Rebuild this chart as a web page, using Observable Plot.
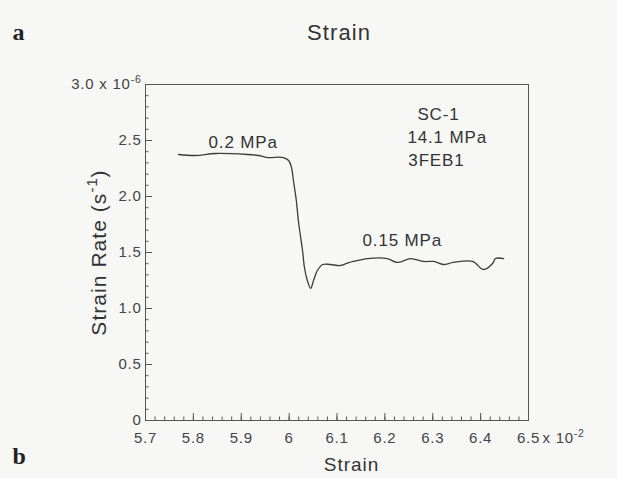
<!DOCTYPE html>
<html>
<head>
<meta charset="utf-8">
<script src="https://cdn.jsdelivr.net/npm/d3@7"></script>
<script src="https://cdn.jsdelivr.net/npm/@observablehq/plot@0.6"></script>
<style>
  html, body { margin: 0; padding: 0; background: #f7f8f5; }
  svg text { letter-spacing: 0.05em; }
</style>
</head>
<body>
<div id="chart"></div>
<script>
// ---- data ----
const strainX = [5.769, 5.804, 5.846, 5.913, 5.936, 5.955, 5.988, 5.999, 6.005, 6.009, 6.015, 6.020, 6.028, 6.032, 6.038, 6.045, 6.051, 6.059, 6.070, 6.086, 6.107, 6.120, 6.134, 6.164, 6.205, 6.226, 6.254, 6.281, 6.302, 6.322, 6.343, 6.383, 6.406, 6.425, 6.431, 6.448];
const strainRate = [2.375, 2.366, 2.384, 2.375, 2.366, 2.348, 2.348, 2.321, 2.259, 2.143, 1.964, 1.759, 1.518, 1.366, 1.250, 1.179, 1.250, 1.339, 1.393, 1.393, 1.384, 1.402, 1.420, 1.446, 1.446, 1.411, 1.446, 1.420, 1.420, 1.393, 1.411, 1.420, 1.348, 1.402, 1.446, 1.446];

const xMajorTicks = [5.7, 5.8, 5.9, 6.0, 6.1, 6.2, 6.3, 6.4, 6.5];
const xTickLabels = ["5.7", "5.8", "5.9", "6", "6.1", "6.2", "6.3", "6.4", "6.5"];
const yMajorTicks = [0, 0.5, 1.0, 1.5, 2.0, 2.5, 3.0];
const yTickLabels = ["0", "0.5", "1.0", "1.5", "2.0", "2.5", "3.0 x 10^{-6}"];
const xMinorTicks = d3.range(0, 41).map(i => +(5.7 + i * 0.02).toFixed(2));
const yMinorTicks = d3.range(0, 31).map(i => +(i * 0.1).toFixed(1));

const annotations = [
  {x: 5.8316, y: 2.4375, text: "0.2 MPa"},
  {x: 6.1533, y: 1.5536, text: "0.15 MPa"},
  {x: 6.268, y: 2.6875, text: "SC-1"},
  {x: 6.247, y: 2.482, text: "14.1 MPa"},
  {x: 6.249, y: 2.268, text: "3FEB1"}
];

const curve = strainX.map((x, i) => ({x, y: strainRate[i]}));
const ink = "#3c3c3c";
const axisInk = "#555";

const chart = Plot.plot({
  width: 617,
  height: 478,
  marginLeft: 145,
  marginRight: 89,
  marginTop: 84,
  marginBottom: 58,
  style: {background: "#f7f8f5", fontFamily: "Liberation Sans, Arial, sans-serif", fontSize: "15px", color: "#444"},
  x: {domain: [5.7, 6.5]},
  y: {domain: [0, 3.0]},
  marks: [
    Plot.frame({stroke: axisInk, strokeWidth: 1}),
    // inward minor / major ticks
    Plot.ruleX(xMinorTicks, {x: d => d, y1: 0, y2: 3.5 / 112, stroke: axisInk}),
    Plot.ruleX(xMajorTicks, {x: d => d, y1: 0, y2: 7 / 112, stroke: axisInk}),
    Plot.ruleY(yMinorTicks, {y: d => d, x1: 5.7, x2: 5.7 + 3.5 / 478.75, stroke: axisInk}),
    Plot.ruleY(yMajorTicks, {y: d => d, x1: 5.7, x2: 5.7 + 7 / 478.75, stroke: axisInk}),
    Plot.axisX({ticks: xMajorTicks, tickFormat: d => xTickLabels[xMajorTicks.findIndex(t => Math.abs(t - d) < 1e-9)], tickSize: 0, tickPadding: 12, label: null, fill: "#444", fontSize: 15}),
    Plot.axisY({ticks: yMajorTicks, tickFormat: d => yTickLabels[yMajorTicks.findIndex(t => Math.abs(t - d) < 1e-9)], tickSize: 0, tickPadding: 4, label: null, fill: "#444", fontSize: 15}),
    Plot.text(["x 10^{-2}"], {x: 6.5, y: 0, text: d => d, textAnchor: "start", lineAnchor: "top", dx: 14, dy: 12, fill: "#444", fontSize: 15}),
    // curve
    Plot.line(curve, {x: "x", y: "y", stroke: ink, strokeWidth: 1.3, curve: "catmull-rom"}),
    // annotations
    Plot.text(annotations, {x: "x", y: "y", text: "text", textAnchor: "start", lineAnchor: "bottom", fontSize: 17, fill: "#333"}),
    // titles
    Plot.text(["Strain"], {frameAnchor: "top", textAnchor: "middle", dx: 2, dy: -60, fontSize: 22, fill: "#333"}),
    Plot.text(["Strain"], {frameAnchor: "bottom", textAnchor: "middle", dx: 14.5, dy: 50, fontSize: 19, fill: "#333"}),
    Plot.text(["Strain Rate (s^{-1})"], {frameAnchor: "left", textAnchor: "middle", dx: -46, dy: 0, rotate: -90, fontSize: 21, fill: "#333"}),
    Plot.text(["a"], {frameAnchor: "top-left", textAnchor: "start", dx: -133, dy: -62, fontSize: 24, fontWeight: "bold", fontFamily: "Liberation Serif, DejaVu Serif, serif", fill: "#222"}),
    Plot.text(["b"], {frameAnchor: "bottom-left", textAnchor: "start", dx: -133, dy: 43, fontSize: 24, fontWeight: "bold", fontFamily: "Liberation Serif, DejaVu Serif, serif", fill: "#222"})
  ]
});

// turn ^{...} markers into real superscript tspans
function supify(svg) {
  const ns = "http://www.w3.org/2000/svg";
  svg.querySelectorAll("text").forEach(t => {
    const targets = t.querySelectorAll("tspan").length ? Array.from(t.querySelectorAll("tspan")) : [t];
    targets.forEach(n => {
      const s = n.textContent;
      if (!s.includes("^{")) return;
      n.textContent = "";
      const re = /\^\{([^}]*)\}/g;
      let last = 0, m, raised = false;
      const add = (str, attrs) => {
        const ts = document.createElementNS(ns, "tspan");
        for (const k in attrs) ts.setAttribute(k, attrs[k]);
        ts.textContent = str;
        n.appendChild(ts);
      };
      while ((m = re.exec(s))) {
        const before = s.slice(last, m.index);
        if (before) { add(before, raised ? {dy: "0.42em"} : {}); raised = false; }
        add(m[1], {dy: raised ? "0" : "-0.6em", "font-size": "0.7em"});
        raised = true;
        last = re.lastIndex;
      }
      const rest = s.slice(last);
      if (rest) add(rest, raised ? {dy: "0.42em"} : {});
    });
  });
}
supify(chart);
document.getElementById("chart").appendChild(chart);
</script>
</body>
</html>
